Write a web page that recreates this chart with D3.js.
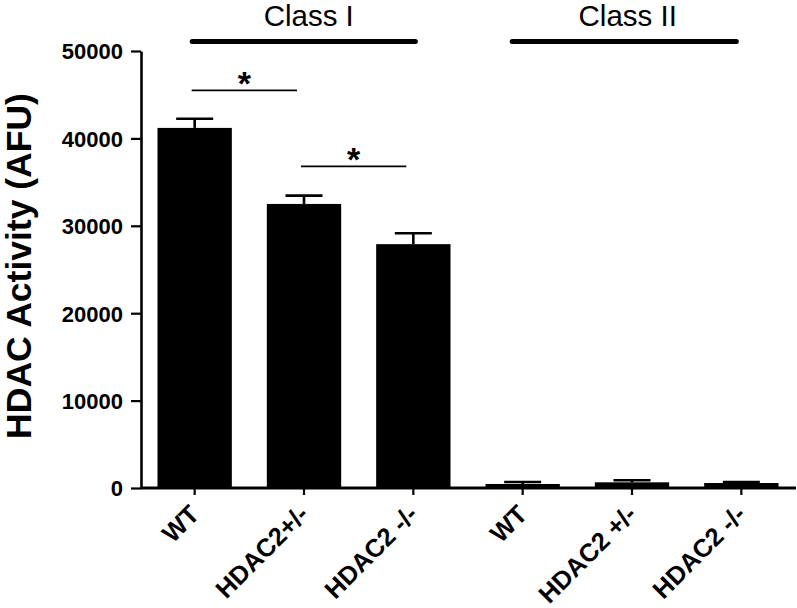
<!DOCTYPE html>
<html><head><meta charset="utf-8">
<script src="https://cdn.jsdelivr.net/npm/d3@7"></script>
<style>body{margin:0;background:#fff}svg{display:block}</style>
</head><body>
<svg id="c" width="797" height="608"></svg>
<script>
const categories = ["WT","HDAC2+/-","HDAC2 -/-","WT ","HDAC2 +/-","HDAC2 -/- "];
const labels = ["WT","HDAC2+/-","HDAC2 -/-","WT","HDAC2 +/-","HDAC2 -/-"];
const values = [41200, 32500, 27900, 460, 650, 570];
const errors = [1050, 950, 1250, 230, 230, 120];
const yTicks = [0, 10000, 20000, 30000, 40000, 50000];
const groupNames = ["Class I", "Class II"];
const groupFrom = [0, 3];
const groupTo = [2, 5];
const sigFrom = [0, 1];
const sigTo = [1, 2];
const sigLevel = [45500, 36800];

const FONT = "Liberation Sans, Arial, Helvetica, sans-serif";
const svg = d3.select("#c");
const x = d3.scaleBand().domain(categories).range([140, 796]).paddingInner(0.32).paddingOuter(0.16);
const y = d3.scaleLinear().domain([0, 50000]).range([488, 51]);
const axisX = 141;
const cx = i => x(categories[i]) + x.bandwidth()/2;

// bars
svg.selectAll("rect.bar").data(values).join("rect")
  .attr("x", (d,i)=>x(categories[i])).attr("width", x.bandwidth())
  .attr("y", d=>y(d)).attr("height", d=>y(0)-y(d)).attr("fill","#000");

// error bars (upper only)
const eg = svg.append("g").attr("stroke","#000").attr("stroke-width",2.6);
values.forEach((v,i)=>{
  const c = cx(i);
  eg.append("line").attr("x1",c).attr("x2",c).attr("y1",y(v)).attr("y2",y(v+errors[i]));
  eg.append("line").attr("x1",c-18.5).attr("x2",c+18.5).attr("y1",y(v+errors[i])).attr("y2",y(v+errors[i]));
});

// y axis
const ya = svg.append("g").attr("transform",`translate(${axisX},0)`)
  .call(d3.axisLeft(y).tickValues(yTicks).tickSize(10).tickSizeOuter(0).tickPadding(8).tickFormat(d3.format("d")));
ya.select(".domain").attr("stroke","#000").attr("stroke-width",2.6);
ya.selectAll(".tick line").attr("stroke","#000").attr("stroke-width",2.2);
ya.selectAll(".tick text").attr("font-family",FONT)
  .attr("font-weight","bold").attr("font-size",22).attr("fill","#000").attr("dy","0.36em");

// x axis
const xa = svg.append("g").attr("transform",`translate(0,${y(0)})`)
  .call(d3.axisBottom(x).tickSize(7).tickSizeOuter(0).tickFormat((d,i)=>labels[i]));
xa.select(".domain").attr("d", `M${axisX},0H796`).attr("stroke","#000").attr("stroke-width",3);
xa.selectAll(".tick line").attr("stroke","#000").attr("stroke-width",2.2);
xa.selectAll(".tick text")
  .attr("font-family",FONT).attr("font-weight","bold")
  .attr("font-size",25.5).attr("fill","#000")
  .attr("text-anchor","end").attr("dy",0).attr("y",0)
  .attr("transform","translate(6,28) rotate(-45)");

// y title
svg.append("text").attr("transform","translate(31,266) rotate(-90)")
  .attr("text-anchor","middle").attr("font-family",FONT)
  .attr("font-weight","bold").attr("font-size",35.5).attr("fill","#000")
  .text("HDAC Activity (AFU)");

// group lines & labels
const lineStartOff = [-2.5, -10.5];
const lineEndOff = [2, -5];
const labelOff = [5, 3.5];
groupNames.forEach((name,k)=>{
  const x1 = cx(groupFrom[k]) + lineStartOff[k];
  const x2 = cx(groupTo[k]) + lineEndOff[k];
  svg.append("line").attr("x1",x1).attr("x2",x2).attr("y1",41.5).attr("y2",41.5)
    .attr("stroke","#000").attr("stroke-width",5).attr("stroke-linecap","round");
  svg.append("text").attr("x",(x1+x2)/2+labelOff[k]).attr("y",25.5).attr("text-anchor","middle")
    .attr("font-family",FONT).attr("font-size",29.5).attr("fill","#000")
    .text(name);
});

// significance
sigFrom.forEach((a,k)=>{
  const b = sigTo[k];
  const x1 = cx(a) - 3;
  const x2 = cx(b) - 7;
  const ly = y(sigLevel[k]);
  svg.append("line").attr("x1",x1).attr("x2",x2).attr("y1",ly).attr("y2",ly)
    .attr("stroke","#000").attr("stroke-width",1.8);
  svg.append("text").attr("x",(x1+x2)/2).attr("y",ly+5).attr("text-anchor","middle")
    .attr("font-family",FONT).attr("font-weight","bold")
    .attr("font-size",34).attr("fill","#000").text("*");
});
</script>
</body></html>
